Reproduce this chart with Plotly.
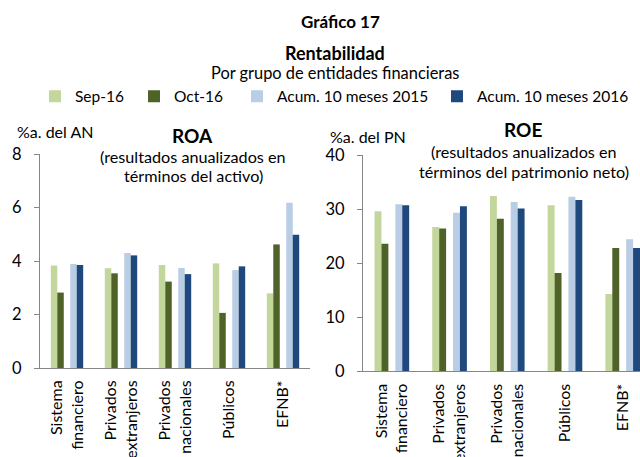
import plotly.graph_objects as go

W, H = 640, 457

categories = ["Sistema<br>financiero", "Privados<br>extranjeros", "Privados<br>nacionales",
              "Públicos", "EFNB*"]
series_names = ["Sep-16", "Oct-16", "Acum. 10 meses 2015", "Acum. 10 meses 2016"]
colors = ["#c3d69b", "#4f6228", "#b9cde5", "#1f497d"]

roa_sep16 = [3.83, 3.73, 3.85, 3.91, 2.79]
roa_oct16 = [2.82, 3.54, 3.23, 2.06, 4.62]
roa_acum15 = [3.89, 4.30, 3.74, 3.66, 6.18]
roa_acum16 = [3.85, 4.21, 3.51, 3.80, 4.98]

roe_sep16 = [29.6, 26.7, 32.4, 30.7, 14.3]
roe_oct16 = [23.6, 26.4, 28.2, 18.2, 22.8]
roe_acum15 = [30.9, 29.3, 31.3, 32.3, 24.4]
roe_acum16 = [30.7, 30.5, 30.1, 31.7, 22.8]

roa_values = [roa_sep16, roa_oct16, roa_acum15, roa_acum16]
roe_values = [roe_sep16, roe_oct16, roe_acum15, roe_acum16]

offsets = [-0.30, -0.18, 0.06, 0.18]
bar_w = 0.12
FONT = "Lato"

fig = go.Figure()
legend_ids = ["legend", "legend2", "legend3", "legend4"]
for i, name in enumerate(series_names):
    fig.add_trace(go.Bar(x=categories, y=roa_values[i], name=name,
                         marker=dict(color=colors[i], line=dict(width=0)),
                         offset=offsets[i], width=bar_w,
                         xaxis="x", yaxis="y", legend=legend_ids[i],
                         legendgroup=name, showlegend=True))
    fig.add_trace(go.Bar(x=categories, y=roe_values[i], name=name,
                         marker=dict(color=colors[i], line=dict(width=0)),
                         offset=offsets[i], width=bar_w,
                         xaxis="x2", yaxis="y2",
                         legendgroup=name, showlegend=False))

def px(x):
    return x / W

def py(y):
    return 1 - y / H

axis_col = "#868686"
common_x = dict(type="category", showgrid=False, showline=True, linecolor=axis_col,
                linewidth=1, ticks="", tickangle=-90, automargin=False,
                ticklabelstandoff=5,
                tickfont=dict(family=FONT, size=16, color="black"), fixedrange=True)
common_y = dict(showgrid=False, showline=True, linecolor=axis_col, linewidth=1,
                ticks="outside", ticklen=5, tickcolor=axis_col, zeroline=False,
                automargin=False,
                tickfont=dict(family=FONT, size=16.5, color="black"),
                ticklabelstandoff=9, fixedrange=True)

fig.update_layout(
    width=W, height=H,
    margin=dict(l=0, r=0, t=0, b=0, autoexpand=False),
    paper_bgcolor="white", plot_bgcolor="white",
    barmode="overlay",
    font=dict(family=FONT, color="black"),
    xaxis=dict(domain=[px(40), px(310)], range=[-0.5, 4.5], anchor="y", **common_x),
    yaxis=dict(domain=[py(368), py(154)], range=[0, 8], dtick=2, anchor="x", **common_y),
    xaxis2=dict(domain=[px(363), 1.0], range=[-0.5, 4.3], anchor="y2", **common_x),
    yaxis2=dict(domain=[py(371.3), py(155)], range=[0, 40], dtick=10, anchor="x2", **common_y),
)

leg_text_x = [75, 174, 277, 477]
for lid, tx in zip(legend_ids, leg_text_x):
    fig.update_layout(**{lid: dict(x=px(tx - 40), y=py(96.7), xanchor="left", yanchor="middle",
                                   orientation="h", bgcolor="rgba(0,0,0,0)",
                                   font=dict(family=FONT, size=15.5, color="black"),
                                   itemclick=False, itemdoubleclick=False)})

annotations = [
    dict(text="<b>Gráfico 17</b>", x=px(340), y=py(21.7), size=17),
    dict(text="<b>Rentabilidad</b>", x=px(335), y=py(52.7), size=18),
    dict(text="Por grupo de entidades financieras", x=px(335), y=py(72.7), size=16.4),
    dict(text="%a. del AN", x=px(55), y=py(131.7), size=16),
    dict(text="<b>ROA</b>", x=px(192), y=py(135), size=19),
    dict(text="(resultados anualizados en", x=px(193), y=py(157), size=16.2),
    dict(text="términos del activo)", x=px(193), y=py(175), size=16.2),
    dict(text="%a. del PN", x=px(368), y=py(136.7), size=16),
    dict(text="<b>ROE</b>", x=px(523), y=py(130), size=19),
    dict(text="(resultados anualizados en", x=px(524), y=py(151.7), size=16.2),
    dict(text="términos del patrimonio neto)", x=px(524), y=py(171.7), size=16.2),
]
for a in annotations:
    fig.add_annotation(text=a["text"], x=a["x"], y=a["y"], xref="paper", yref="paper",
                       xanchor="center", yanchor="middle", showarrow=False,
                       font=dict(family=FONT, size=a["size"], color="black"))

fig.write_html("out.html",
               config={"displayModeBar": False, "staticPlot": False},
               post_script="document.body.style.margin='0';document.body.style.overflow='hidden';")
